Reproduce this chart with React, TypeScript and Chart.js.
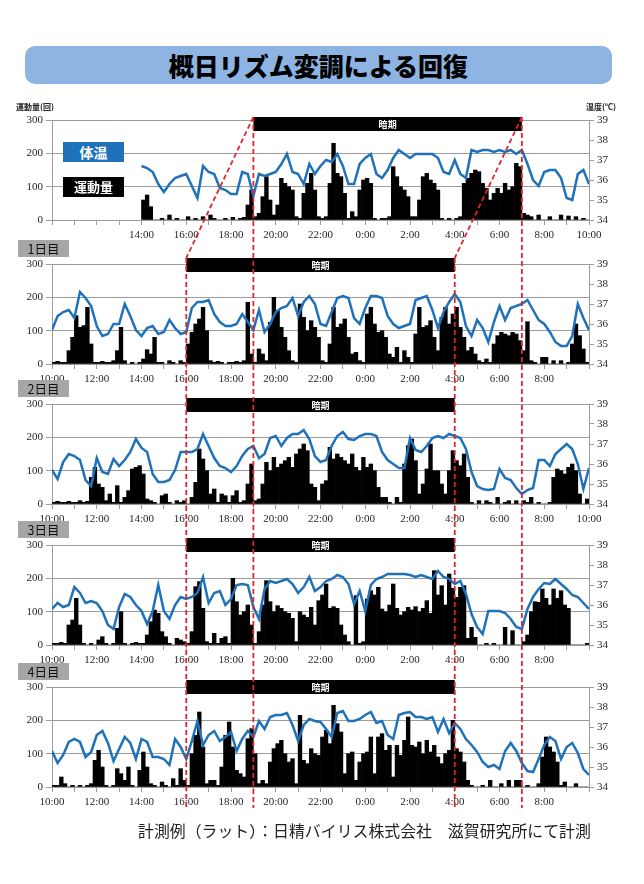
import React, { useEffect, useRef } from 'react';
import { Chart, registerables } from 'chart.js';

Chart.register(...registerables);

// ---------- text ----------
const TITLE = '概日リズム変調による回復';
const FOOTER = '計測例（ラット）：日精バイリス株式会社　滋賀研究所にて計測';
const PANEL_NAMES = ['', '1日目', '2日目', '3日目', '4日目'];
const LEGEND_TEMP = '体温';
const LEGEND_ACT = '運動量';
const LEFT_AXIS_TITLE = '運動量(回)';
const RIGHT_AXIS_TITLE = '温度(℃)';
const DARK_LABEL = '暗期';

// x axis: hours after 10:00 (0..24); labels every 2 hours
const TIME_LABELS = ['10:00', '12:00', '14:00', '16:00', '18:00', '20:00', '22:00', '0:00', '2:00', '4:00', '6:00', '8:00', '10:00'];
const LABEL_FROM = [2, 0, 0, 0, 0];
const LABEL_TO = [12, 11, 12, 11, 11];

// dark period (hours after 10:00)
const DARK_FROM = [9, 6, 6, 6, 6];
const DARK_TO = [21, 18, 18, 18, 18];

// activity: counts per 10-minute bin, from 10:00
const ACT_PER_HOUR = 6;
const ACT_0 = [
  null, null, null, null, null, null, null, null, null, null, null, null,
  null, null, null, null, null, null, null, null, null, null, null, null,
  60, 75, 40, 0, 0, 5, 0, 15, 0, 5, 0, 0,
  10, 0, 5, 0, 10, 0, 15, 5, 0, 0, 5, 0,
  8, 0, 5, 8, 45, 90, 10, 20, 70, 130, 60, 15,
  45, 125, 110, 100, 90, 10, 5, 80, 110, 140, 90, 10,
  5, 10, 110, 230, 140, 130, 80, 5, 25, 10, 90, 120,
  125, 110, 5, 0, 5, 5, 10, 160, 130, 100, 90, 70,
  10, 10, 60, 130, 140, 120, 110, 90, 5, 0, 5, 0,
  5, 10, 110, 125, 140, 150, 145, 110, 95, 60, 80, 95,
  80, 110, 90, 100, 170, 160, 20, 15, 10, 0, 15, 0,
  0, 10, 0, 0, 15, 0, 12, 0, 10, 0, 5, 0,
];
const ACT_1 = [
  5, 8, 5, 5, 40, 80, 145, 110, 115, 170, 60, 5,
  5, 8, 5, 5, 10, 40, 110, 10, 0, 5, 0, 5,
  15, 43, 30, 80, 5, 5, 0, 10, 5, 0, 10, 5,
  60, 95, 120, 135, 170, 100, 10, 5, 8, 5, 0, 5,
  5, 8, 5, 10, 185, 30, 5, 45, 30, 10, 125, 200,
  160, 110, 80, 40, 10, 5, 180, 140, 100, 130, 110, 80,
  10, 5, 60, 170, 110, 120, 135, 80, 30, 35, 10, 5,
  150, 170, 120, 95, 100, 80, 30, 20, 50, 5, 40, 20,
  5, 90, 170, 110, 115, 130, 80, 40, 140, 170, 120, 150,
  170, 110, 80, 40, 50, 30, 10, 5, 15, 5, 60, 85,
  95, 90, 85, 95, 90, 70, 40, 127, 10, 5, 0, 20,
  20, 0, 10, 0, 10, 0, 5, 60, 120, 85, 45, 5,
];
const ACT_2 = [
  5, 8, 5, 5, 8, 5, 5, 10, 5, 8, 80, 110,
  60, 50, 10, 30, 5, 55, 5, 20, 40, 105, 110, 115,
  90, 15, 10, 5, 0, 25, 30, 5, 0, 10, 5, 10,
  0, 20, 65, 165, 135, 100, 30, 45, 5, 30, 25, 5,
  25, 40, 5, 10, 60, 120, 10, 15, 60, 125, 100, 140,
  110, 120, 130, 140, 110, 150, 165, 180, 160, 60, 50, 10,
  60, 70, 170, 135, 150, 140, 130, 120, 150, 110, 100, 140,
  110, 120, 100, 50, 20, 20, 5, 0, 20, 5, 120, 175,
  195, 130, 30, 60, 105, 180, 100, 100, 60, 30, 100, 160,
  130, 115, 150, 80, 5, 0, 10, 0, 10, 5, 0, 20,
  0, 5, 10, 0, 10, 0, 10, 5, 20, 0, 5, 0,
  0, 5, 80, 105, 100, 90, 110, 120, 100, 30, 0, 15,
];
const ACT_3 = [
  5, 5, 8, 5, 60, 75, 140, 60, 5, 0, 5, 0,
  15, 25, 5, 0, 5, 50, 100, 5, 0, 5, 8, 5,
  5, 30, 70, 105, 95, 40, 25, 5, 0, 20, 15, 10,
  5, 40, 175, 190, 110, 10, 5, 35, 5, 20, 25, 5,
  200, 130, 90, 100, 120, 60, 5, 40, 120, 193, 130, 100,
  118, 110, 100, 95, 80, 10, 100, 90, 83, 113, 60, 133,
  150, 183, 110, 115, 110, 60, 30, 10, 0, 148, 5, 10,
  138, 163, 150, 173, 108, 100, 120, 183, 110, 90, 100, 113,
  105, 115, 100, 110, 133, 95, 223, 150, 178, 120, 213, 170,
  143, 173, 178, 20, 53, 23, 0, 0, 5, 0, 5, 0,
  0, 53, 0, 43, 0, 0, 10, 30, 100, 130, 128, 168,
  140, 120, 168, 140, 163, 120, 110, 0, 0, 0, 0, 5,
];
const ACT_4 = [
  5, 5, 30, 10, 0, 5, 0, 5, 0, 5, 10, 80,
  110, 60, 5, 0, 5, 55, 40, 20, 60, 5, 0, 50,
  105, 60, 10, 5, 0, 15, 5, 0, 25, 5, 55, 20,
  5, 100, 155, 225, 120, 10, 20, 20, 5, 60, 155, 195,
  120, 50, 40, 30, 145, 175, 100, 10, 20, 10, 75, 115,
  130, 140, 100, 75, 85, 10, 215, 80, 70, 115, 100, 95,
  150, 170, 130, 245, 190, 165, 40, 100, 105, 20, 75, 100,
  105, 150, 40, 150, 160, 110, 125, 30, 125, 95, 140, 210,
  125, 120, 135, 100, 140, 105, 125, 90, 70, 100, 110, 200,
  115, 105, 75, 20, 5, 0, 0, 5, 0, 20, 0, 0,
  10, 0, 20, 0, 20, 20, 0, 5, 0, 0, 10, 90,
  150, 120, 105, 75, 5, 15, 0, 0, 10, 0, 0, 0,
];

// body temperature (°C) every 15 minutes from 10:00 to 10:00
const TEMP_PER_HOUR = 4;
const TEMP_0 = [
  null, null, null, null, null, null, null, null, null, null, null, null, null, null, null, null,
  36.7, 36.6, 36.4, 35.8, 35.4, 35.8, 36.1, 36.2, 36.3, 35.7,
  35.1, 36.7, 36.4, 36.3, 35.6, 35.5, 35.3, 35.3, 36.4, 36.3,
  35.2, 36.3, 36.2, 36.3, 36.4, 36.8, 37.3, 36.4, 36.3, 35.8,
  36.8, 36.3, 36.7, 37.0, 36.9, 37.3, 36.7, 35.8, 35.8, 36.8,
  37.1, 37.3, 36.3, 36.1, 36.5, 37.1, 37.5, 37.3, 37.1, 37.3,
  37.3, 37.3, 37.3, 37.1, 36.4, 36.3, 37.0, 36.3, 36.1, 37.5,
  37.4, 37.5, 37.5, 37.4, 37.5, 37.4, 37.5, 37.3, 37.5, 36.8,
  36.0, 35.7, 36.4, 36.5, 36.5, 36.1, 35.1, 35.0, 36.3, 36.5, 35.8,
];
const TEMP_1 = [
  35.7, 36.4, 36.6, 36.7, 36.3, 37.6, 37.3, 36.9, 35.9, 35.4,
  35.5, 36.0, 36.0, 37.0, 36.4, 35.7, 35.4, 35.8, 35.9, 35.5,
  35.6, 36.2, 35.8, 35.5, 35.6, 36.8, 37.1, 37.1, 37.2, 36.5,
  36.1, 35.9, 35.9, 36.0, 36.5, 36.1, 35.7, 36.7, 35.6, 36.0,
  36.6, 36.8, 36.9, 37.3, 36.4, 37.1, 37.4, 37.0,
  36.0, 35.9, 36.6, 37.3, 37.4, 37.3, 36.3, 36.0, 36.8, 37.4,
  37.4, 37.3, 36.4, 36.0, 35.8, 35.9, 36.0, 37.2, 37.3, 37.4,
  36.7, 35.8, 36.6, 37.1, 37.5, 37.1, 35.9, 35.4, 36.2, 35.8,
  35.1, 36.1, 36.9, 36.2, 36.8, 36.9, 37.0, 37.2, 36.7, 36.2,
  36.0, 35.6, 35.1, 34.9, 34.9, 35.4, 37.0, 36.3, 35.7,
];
const TEMP_2 = [
  35.7, 35.25, 36.1, 36.5, 36.4, 36.2, 35.2, 34.9, 36.3, 35.6,
  35.5, 36.25, 35.9, 36.2, 36.6, 37.25, 36.8, 36.6, 35.5, 35.1,
  35.1, 35.2, 35.7, 36.6, 36.6, 36.6, 36.75, 37.5, 36.9, 36.3,
  35.9, 35.8, 35.6, 35.9, 36.4, 36.75, 36.9, 36.3, 36.5, 37.3,
  37.4, 36.9, 37.3, 37.5, 37.5, 37.7, 37.25, 36.4,
  36.1, 36.2, 36.9, 37.4, 37.6, 37.25, 37.2, 37.4, 37.5, 37.5,
  37.4, 36.6, 36.2, 36.0, 35.8, 35.8, 37.3, 36.7, 36.6, 36.9,
  37.3, 37.4, 37.3, 37.5, 37.4, 37.3, 36.75, 35.6, 34.9, 34.75,
  34.7, 34.75, 35.75, 35.3, 35.2, 34.8, 34.5, 34.7, 34.8, 36.2,
  36.2, 35.9, 36.5, 36.75, 37.0, 36.75, 36.0, 34.75, 35.8,
];
const TEMP_3 = [
  35.8, 36.1, 35.9, 36.0, 36.9, 36.6, 36.1, 36.2, 36.1, 35.7,
  35.0, 34.8, 35.9, 36.55, 36.4, 36.0, 35.7, 35.05, 35.7, 37.0,
  35.7, 35.3, 36.0, 36.4, 36.3, 36.4, 36.6, 37.4, 36.1, 36.6,
  36.7, 36.0, 36.3, 37.0, 37.05, 37.0, 35.9, 35.3, 36.8, 37.2,
  37.1, 37.2, 37.3, 37.05, 36.6, 36.9, 37.4, 36.7,
  36.9, 37.2, 37.3, 37.5, 37.4, 37.05, 36.05, 36.7, 35.7, 37.0,
  37.3, 37.4, 37.55, 37.55, 37.55, 37.55, 37.5, 37.4, 37.5, 37.4,
  37.3, 37.7, 37.4, 37.3, 37.05, 37.2, 36.55, 35.55, 34.9, 34.55,
  35.7, 35.7, 35.7, 35.6, 35.3, 34.9, 34.8, 35.8, 36.4, 36.8,
  37.1, 37.05, 37.3, 37.05, 36.8, 36.5, 36.4, 36.1, 35.8,
];
const TEMP_4 = [
  35.8, 35.2, 35.6, 36.25, 36.4, 36.25, 35.5, 35.75, 36.6, 36.8,
  36.2, 35.3, 35.9, 36.5, 36.2, 35.4, 36.4, 36.25, 35.5, 35.5,
  35.4, 35.1, 36.4, 36.0, 35.4, 36.3, 37.3, 36.1, 36.6, 36.8,
  36.3, 36.5, 36.75, 35.8, 36.4, 36.8, 36.5, 37.3, 36.9, 37.5,
  37.6, 37.6, 37.7, 37.1, 36.3, 37.1, 37.4, 37.3,
  37.25, 36.9, 36.5, 37.7, 37.8, 37.3, 37.3, 37.4, 37.6, 37.75,
  37.2, 37.3, 36.6, 36.4, 37.6, 37.7, 37.75, 37.5, 37.5, 37.4,
  37.5, 36.75, 37.4, 36.7, 37.2, 36.9, 36.4, 36.1, 35.75, 35.25,
  35.0, 35.1, 34.9, 35.8, 36.2, 35.8, 35.2, 34.8, 34.75, 35.4,
  36.1, 36.5, 36.3, 35.4, 36.0, 36.2, 35.7, 34.9, 34.6,
];

const ACTS = [ACT_0, ACT_1, ACT_2, ACT_3, ACT_4];
const TEMPS = [TEMP_0, TEMP_1, TEMP_2, TEMP_3, TEMP_4];

// ---------- layout / style ----------
const PAGE_W = 644;
const PAGE_H = 884;
const CANVAS_TOP = [100, 250, 392, 532, 674];
const CANVAS_H = [150, 142, 140, 142, 156];
const PLOT_TOP = [120, 264, 404, 545, 687];
const PLOT_H = 100;
const LEFT_W = 52;
const RIGHT_W = 55;
const XAXIS_H = 18;
const DARK_OFF = [-3, -6, -6, -7, -7];
const DARK_H = 14;
const LINE_BOTTOM = 808;

const BLUE = '#1F72BA';
const GRID = '#9c9c9c';
const RED = '#E0262B';
const TICK_COLOR = '#262626';
const SERIF = '"Liberation Serif", "DejaVu Serif", serif';
const JP = '"Noto Sans CJK JP", "Noto Sans", sans-serif';

const overlayPlugin = {
  id: 'overlay',
  afterDatasetsDraw(chart: any, _args: any, opts: any) {
    const p = opts.panel;
    const { ctx, chartArea } = chart;
    const xs = chart.scales.x;
    const x1 = xs.getPixelForValue(DARK_FROM[p]);
    const x2 = xs.getPixelForValue(DARK_TO[p]);
    const top = chartArea.top + DARK_OFF[p];
    ctx.save();
    ctx.fillStyle = '#000';
    ctx.fillRect(x1, top, x2 - x1, DARK_H);
    ctx.fillStyle = '#fff';
    ctx.font = 'bold 9px ' + JP;
    ctx.textAlign = 'center';
    ctx.textBaseline = 'middle';
    ctx.fillText(DARK_LABEL, (x1 + x2) / 2, top + DARK_H / 2 + 0.5);
    ctx.restore();
  },
  afterDraw(chart: any, _args: any, opts: any) {
    const p = opts.panel;
    const { ctx } = chart;
    const xs = chart.scales.x;
    const off = CANVAS_TOP[p];
    const y0 = PLOT_TOP[0] + DARK_OFF[0] - off;
    const y1 = PLOT_TOP[1] + DARK_OFF[1] - off;
    const yb = LINE_BOTTOM - off;
    const segs = [
      [DARK_FROM[0], y0, DARK_FROM[0], yb],
      [DARK_TO[0], y0, DARK_TO[0], yb],
      [DARK_FROM[1], y1, DARK_FROM[1], yb],
      [DARK_TO[1], y1, DARK_TO[1], yb],
      [DARK_FROM[0], y0, DARK_FROM[1], y1],
      [DARK_TO[0], y0, DARK_TO[1], y1],
    ];
    ctx.save();
    ctx.strokeStyle = RED;
    ctx.lineWidth = 1.8;
    ctx.setLineDash([5, 3]);
    for (const s of segs) {
      ctx.beginPath();
      ctx.moveTo(xs.getPixelForValue(s[0]), s[1]);
      ctx.lineTo(xs.getPixelForValue(s[2]), s[3]);
      ctx.stroke();
    }
    ctx.restore();
  },
};

function makeConfig(p: number): any {
  const padTop = PLOT_TOP[p] - CANVAS_TOP[p];
  const padBottom = CANVAS_H[p] - padTop - PLOT_H - XAXIS_H;
  return {
    type: 'bar',
    data: {
      datasets: [
        {
          type: 'line',
          data: TEMPS[p].map((v, k) => ({ x: k / TEMP_PER_HOUR, y: v })),
          yAxisID: 'yR',
          borderColor: BLUE,
          borderWidth: 2.5,
          pointRadius: 0,
          tension: 0,
          spanGaps: false,
          order: 0,
        },
        {
          type: 'bar',
          data: ACTS[p].map((v, i) => ({ x: (i + 0.5) / ACT_PER_HOUR, y: v })),
          yAxisID: 'yL',
          backgroundColor: '#000',
          barPercentage: 1,
          categoryPercentage: 1,
          order: 1,
        },
      ],
    },
    options: {
      responsive: false,
      animation: false,
      events: [],
      layout: { padding: { top: padTop, bottom: padBottom, left: 0, right: 0 } },
      plugins: {
        legend: { display: false },
        tooltip: { enabled: false },
        overlay: { panel: p },
      },
      scales: {
        x: {
          type: 'linear',
          min: 0,
          max: 24,
          offset: false,
          grid: { offset: false, drawOnChartArea: false, drawTicks: true, tickLength: 5, color: GRID },
          border: { color: GRID },
          ticks: {
            stepSize: 1,
            autoSkip: false,
            maxRotation: 0,
            minRotation: 0,
            padding: 4,
            color: TICK_COLOR,
            font: { family: SERIF, size: 11 },
            callback: (value: any) => {
              const h = Number(value);
              if (h % 2 !== 0) return '';
              const idx = h / 2;
              if (idx < LABEL_FROM[p] || idx > LABEL_TO[p]) return '';
              return TIME_LABELS[idx];
            },
          },
          afterFit: (s: any) => { s.height = XAXIS_H; },
        },
        yL: {
          position: 'left',
          min: 0,
          max: 300,
          ticks: { stepSize: 100, padding: 3, color: TICK_COLOR, font: { family: SERIF, size: 11 } },
          grid: { color: GRID, tickLength: 6 },
          border: { color: GRID },
          afterFit: (s: any) => { s.width = LEFT_W; },
        },
        yR: {
          position: 'right',
          min: 34,
          max: 39,
          ticks: { stepSize: 1, padding: 3, color: TICK_COLOR, font: { family: SERIF, size: 11 } },
          grid: { drawOnChartArea: false, tickLength: 5, color: GRID },
          border: { color: GRID },
          afterFit: (s: any) => { s.width = RIGHT_W; },
        },
      },
    },
    plugins: [overlayPlugin],
  };
}

export default function App() {
  const refs = useRef<(HTMLCanvasElement | null)[]>([]);

  useEffect(() => {
    const charts: Chart[] = [];
    for (let p = 0; p < 5; p++) {
      const c = refs.current[p];
      if (c) charts.push(new Chart(c, makeConfig(p)));
    }
    return () => charts.forEach((ch) => ch.destroy());
  }, []);

  return (
    <div style={{ position: 'absolute', left: 0, top: 0, width: PAGE_W, height: PAGE_H, background: '#fff', overflow: 'hidden' }}>
      <div
        style={{
          position: 'absolute', left: 25, top: 46, width: 587, height: 38, background: '#8DB4E2', borderRadius: 10,
          textAlign: 'center', lineHeight: '38px', fontFamily: JP, fontWeight: 900, fontSize: 25, color: '#000',
        }}
      >
        {TITLE}
      </div>

      {[0, 1, 2, 3, 4].map((p) => (
        <canvas
          key={p}
          ref={(el) => { refs.current[p] = el; }}
          width={PAGE_W}
          height={CANVAS_H[p]}
          style={{ position: 'absolute', left: 0, top: CANVAS_TOP[p], width: PAGE_W, height: CANVAS_H[p] }}
        />
      ))}

      <div style={{ position: 'absolute', left: 16, top: 101, fontFamily: JP, fontSize: 8, fontWeight: 700, color: '#222', whiteSpace: 'nowrap' }}>
        {LEFT_AXIS_TITLE}
      </div>
      <div style={{ position: 'absolute', left: 586, top: 101, fontFamily: JP, fontSize: 8, fontWeight: 700, color: '#222', whiteSpace: 'nowrap' }}>
        {RIGHT_AXIS_TITLE}
      </div>

      <div style={{ position: 'absolute', left: 63, top: 142, width: 61, height: 20, background: BLUE, color: '#fff', fontFamily: JP, fontWeight: 700, fontSize: 14, lineHeight: '20px', textAlign: 'center' }}>
        {LEGEND_TEMP}
      </div>
      <div style={{ position: 'absolute', left: 63, top: 177, width: 61, height: 20, background: '#000', color: '#fff', fontFamily: JP, fontWeight: 700, fontSize: 13, lineHeight: '20px', textAlign: 'center' }}>
        {LEGEND_ACT}
      </div>

      {[1, 2, 3, 4].map((p) => (
        <div
          key={'lbl' + p}
          style={{
            position: 'absolute', left: 18, top: PLOT_TOP[p] - 24, width: 51, height: 17, background: '#A6A6A6',
            fontFamily: JP, fontSize: 12.5, lineHeight: '17px', textAlign: 'center', color: '#111',
          }}
        >
          {PANEL_NAMES[p]}
        </div>
      ))}

      <div style={{ position: 'absolute', left: 138, top: 819, fontFamily: JP, fontSize: 15.9, color: '#222', whiteSpace: 'nowrap' }}>
        {FOOTER}
      </div>
    </div>
  );
}
